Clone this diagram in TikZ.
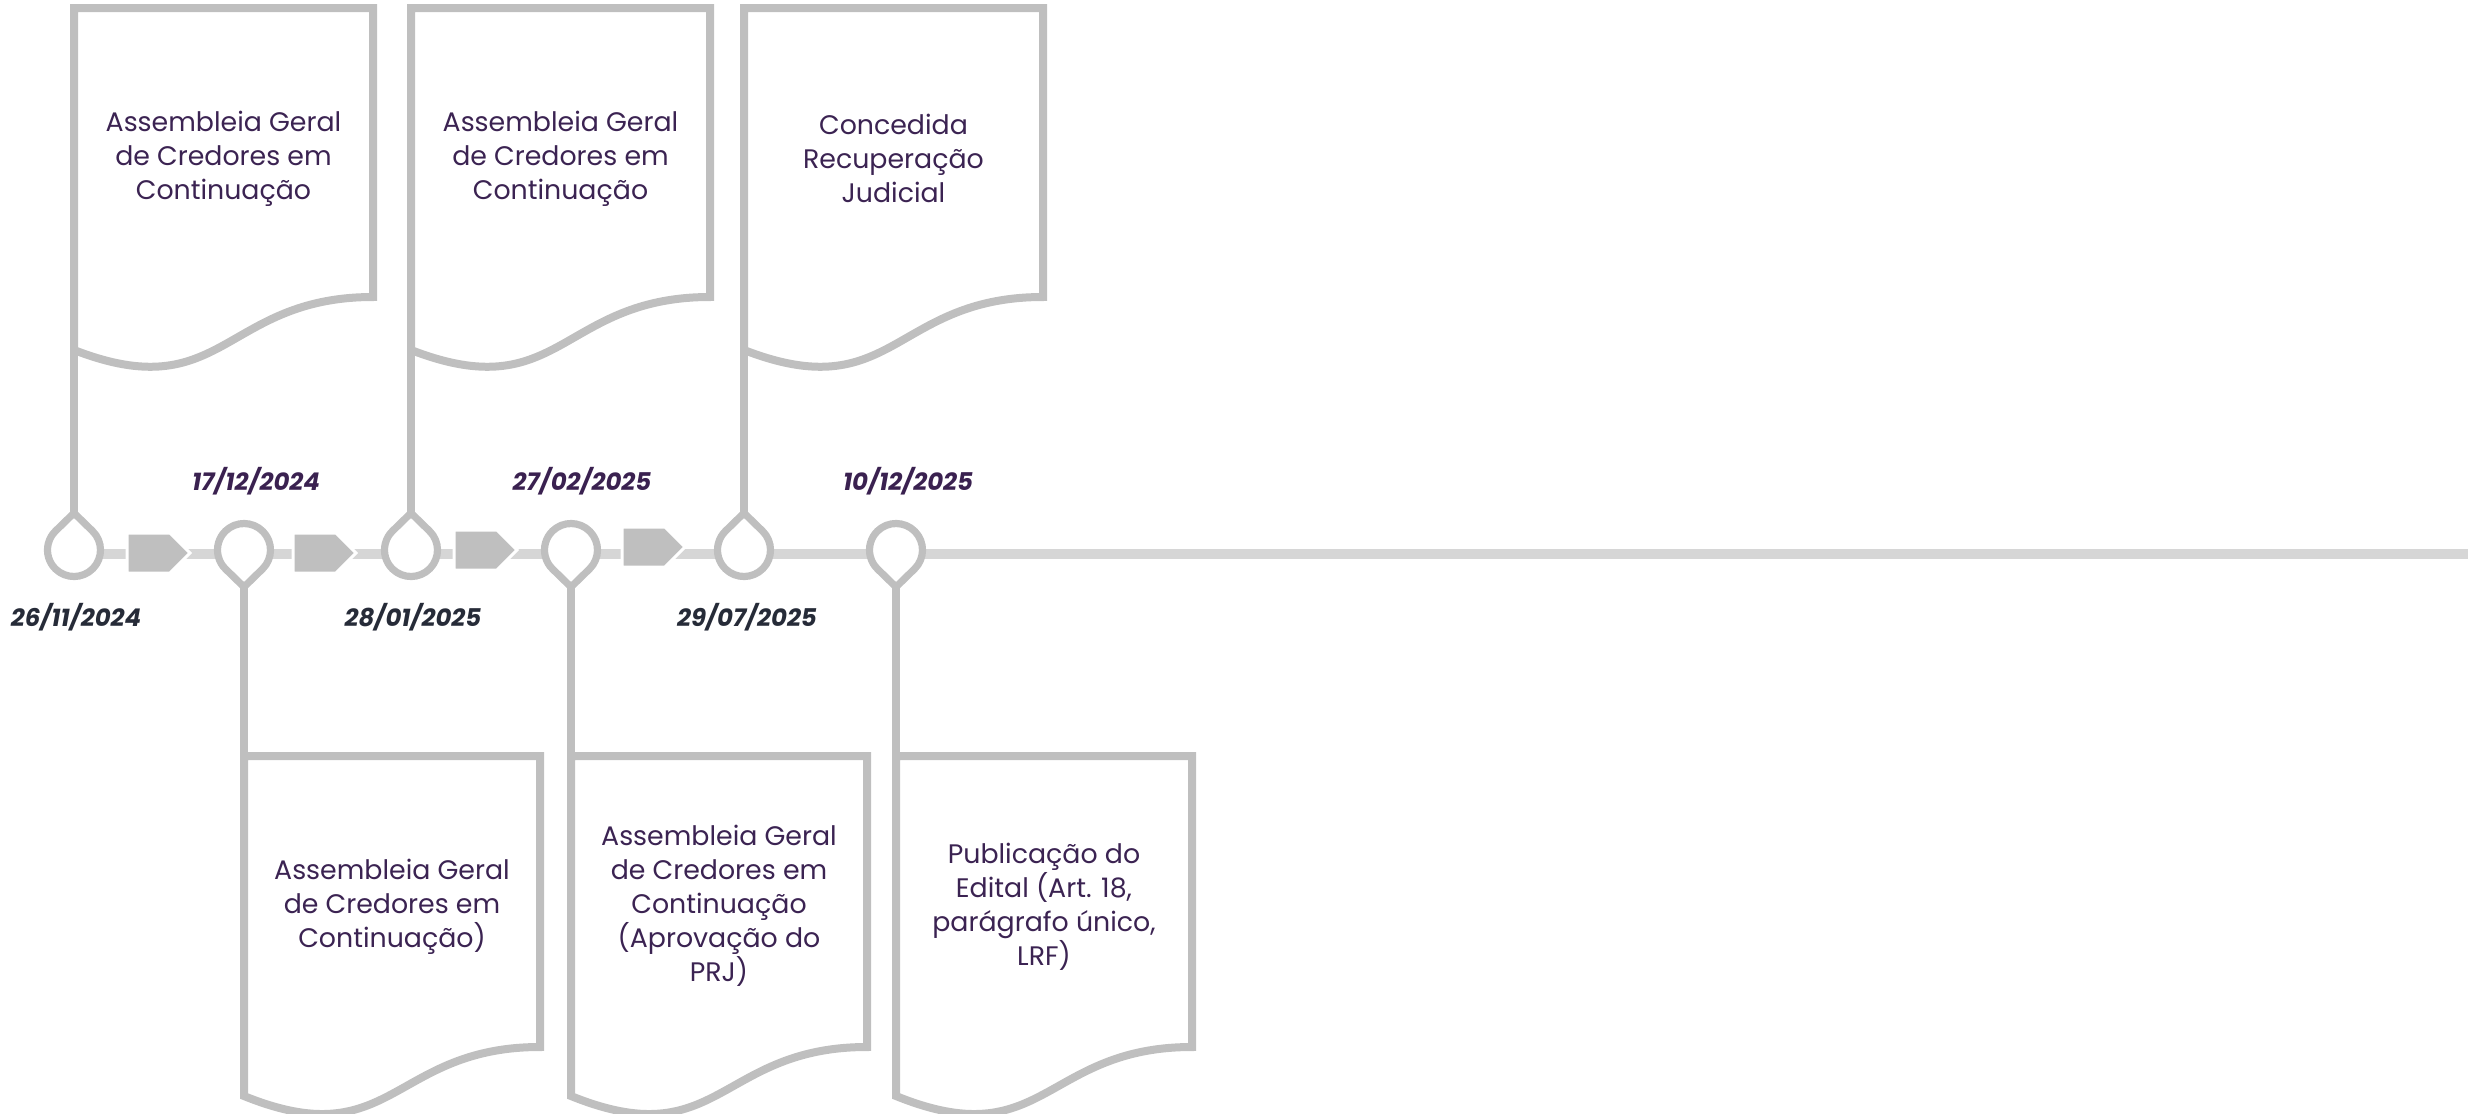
\documentclass[tikz,border=0pt]{standalone}
\usepackage{fontspec}
\setmainfont{Poppins}
\definecolor{cardgray}{HTML}{BFBFBF}
\definecolor{linegray}{HTML}{D6D6D6}
\definecolor{txtpurple}{HTML}{3B2352}
\definecolor{datepurple}{HTML}{3A2150}
\definecolor{dateslate}{HTML}{262B38}
\tikzset{
  cardline/.style={draw=cardgray, line width=4pt, line join=miter},
  pinline/.style={draw=cardgray, line width=3.6pt, fill=white, line join=miter},
  tline/.style={draw=linegray, line width=4.6pt},
  arrowshape/.style={fill=cardgray, draw=white, line width=1.5pt},
  cardtext/.style={text=txtpurple, align=center, inner sep=0pt, font=\fontsize{13.4}{17}\selectfont},
  datetop/.style={text=datepurple, inner sep=0pt, font=\fontsize{12.2}{14}\selectfont\bfseries\itshape},
  datebot/.style={text=dateslate, inner sep=0pt, font=\fontsize{12.2}{14}\selectfont\bfseries\itshape},
}
\newcommand\mkTopCard[2]{%
  \coordinate (#1-lb) at (#2,350);
  \draw[cardline] (#2,350) -- (#2,8) -- (#2+299,8) -- (#2+299,297) .. controls (#2+149.5,297) and (#2+149.5,408) .. cycle;
}
\newcommand\mkBotCard[2]{%
  \coordinate (#1-tl) at (#2,756);
  \draw[cardline] (#2,1096) -- (#2,756) -- (#2+296,756) -- (#2+296,1047) .. controls (#2+148,1047) and (#2+148,1156) .. cycle;
}
\newcommand\mkUpPin[2]{%
  \coordinate (#1) at (#2,550);
  \coordinate (#1-tip) at (#2,513);
  \draw[pinline] (#2,513) -- ++(18.49,18.02) arc[start angle=-45.75, end angle=225.75, radius=26.5] -- cycle;
}
\newcommand\mkDownPin[2]{%
  \coordinate (#1) at (#2,550);
  \coordinate (#1-tip) at (#2,587);
  \draw[pinline] (#2,587) -- ++(18.49,-18.02) arc[start angle=45.75, end angle=-225.75, radius=26.5] -- cycle;
}
\newcommand\mkArrow[2]{%
  \draw[arrowshape] (#1,#2-20) -- (#1+43,#2-20) -- (#1+63,#2) -- (#1+43,#2+20) -- (#1,#2+20) -- cycle;
}
\begin{document}
\begin{tikzpicture}[x=0.5pt,y=-0.5pt]
\useasboundingbox (0,0) rectangle (2481,1114);
% timeline
\coordinate (tlstart) at (74,554);
\coordinate (tlend) at (2468,554);
\draw[tline] (tlstart) -- (tlend);
% cards
\mkTopCard{c1}{74}
\mkTopCard{c3}{411}
\mkTopCard{c5}{744}
\mkBotCard{c2}{244}
\mkBotCard{c4}{571}
\mkBotCard{c6}{896}
% connectors
\coordinate (p1t) at (74,513);
\coordinate (p3t) at (411,513);
\coordinate (p5t) at (744,513);
\coordinate (p2t) at (244,587);
\coordinate (p4t) at (571,587);
\coordinate (p6t) at (896,587);
\draw[cardline] (c1-lb) -- (p1t);
\draw[cardline] (c3-lb) -- (p3t);
\draw[cardline] (c5-lb) -- (p5t);
\draw[cardline] (p2t) -- (c2-tl);
\draw[cardline] (p4t) -- (c4-tl);
\draw[cardline] (p6t) -- (c6-tl);
% pins
\mkUpPin{p1}{74}
\mkDownPin{p2}{244}
\mkUpPin{p3}{411}
\mkDownPin{p4}{571}
\mkUpPin{p5}{744}
\mkDownPin{p6}{896}
% arrows
\mkArrow{127}{553}
\mkArrow{293}{553}
\mkArrow{454}{550}
\mkArrow{622}{547}
% card texts
\node[cardtext] (t1) at (223.5,159) {Assembleia Geral\\de Credores em\\Continuação};
\node[cardtext] (t3) at (560.5,159) {Assembleia Geral\\de Credores em\\Continuação};
\node[cardtext] (t5) at (893.5,158) {Concedida\\Recuperação\\Judicial};
\node[cardtext] (t2) at (392,907) {Assembleia Geral\\de Credores em\\Continuação)};
\node[cardtext] (t4) at (719,906) {Assembleia Geral\\de Credores em\\Continuação\\(Aprovação do\\PRJ)};
\node[cardtext] (t6) at (1044,907) {Publicação do\\Edital (Art. 18,\\parágrafo único,\\LRF)};
% dates
\node[datebot] (d1) at (76,617) {26/11/2024};
\node[datetop] (d2) at (256,481) {17/12/2024};
\node[datebot] (d3) at (413,617) {28/01/2025};
\node[datetop] (d4) at (582,481) {27/02/2025};
\node[datebot] (d5) at (747,617) {29/07/2025};
\node[datetop] (d6) at (908,481) {10/12/2025};
\end{tikzpicture}
\end{document}
